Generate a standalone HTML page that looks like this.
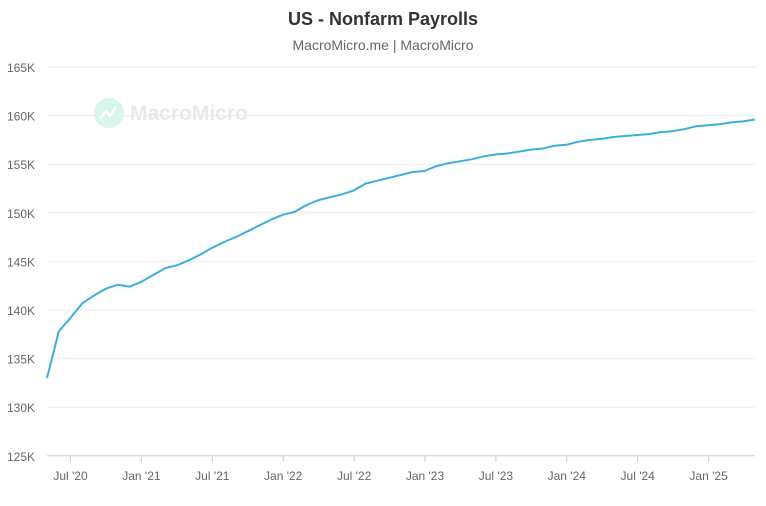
<!DOCTYPE html>
<html><head><meta charset="utf-8"><style>
body{margin:0;background:#fff;width:766px;height:501px;overflow:hidden;font-family:"Liberation Sans",sans-serif}
</style></head><body>
<svg id="s" width="766" height="501" xmlns="http://www.w3.org/2000/svg" font-family="Liberation Sans, sans-serif">
<text x="383" y="25" text-anchor="middle" font-size="18" font-weight="bold" fill="#333">US - Nonfarm Payrolls</text>
<text x="383" y="50" text-anchor="middle" font-size="14" fill="#666">MacroMicro.me |  MacroMicro</text>
<g id="grid"></g>
<circle cx="109" cy="113" r="15" fill="#d8f5ee"/>
<polyline points="100,119 106,111 110,116 116,107" fill="none" stroke="#fff" stroke-width="2"/>
<text x="130" y="120" font-size="21" font-weight="bold" fill="#e9e9e9">MacroMicro</text>
<polyline id="line" fill="none" stroke="#3bafd9" stroke-width="2" stroke-linejoin="round"/>
</svg>
<script>
var g=document.getElementById('grid'),h='';
for(var i=0;i<=8;i++){var v=165-5*i,y=67+i*48.6;
h+='<line x1="47" x2="755" y1="'+y+'" y2="'+y+'" stroke="'+(i==8?'#ccc':'#ebebeb')+'" stroke-width="1"/>';
h+='<text x="35" y="'+(y+5)+'" text-anchor="end" font-size="12" fill="#666">'+v+'K</text>';}
var labs=["Jul '20","Jan '21","Jul '21","Jan '22","Jul '22","Jan '23","Jul '23","Jan '24","Jul '24","Jan '25"];
for(var j=0;j<labs.length;j++){var x=70.5+j*70.9;
h+='<line x1="'+x+'" x2="'+x+'" y1="456" y2="462" stroke="#ccc"/>';
h+='<text x="'+x+'" y="480" text-anchor="middle" font-size="12" fill="#666">'+labs[j]+'</text>';}
g.innerHTML=h;
var d=[133.0,137.8,139.2,140.7,141.5,142.2,142.6,142.4,142.9,143.6,144.3,144.6,145.1,145.7,146.4,147.0,147.5,148.1,148.7,149.3,149.8,150.1,150.8,151.3,151.6,151.9,152.3,153.0,153.3,153.6,153.9,154.2,154.3,154.8,155.1,155.3,155.5,155.8,156.0,156.1,156.3,156.5,156.6,156.9,157.0,157.3,157.5,157.6,157.8,157.9,158.0,158.1,158.3,158.4,158.6,158.9,159.0,159.1,159.3,159.4,159.6];
var p=d.map(function(v,k){return (47+k*11.8).toFixed(1)+','+(67+(165-v)*9.72).toFixed(1)}).join(' ');
document.getElementById('line').setAttribute('points',p);
</script>
</body></html>
